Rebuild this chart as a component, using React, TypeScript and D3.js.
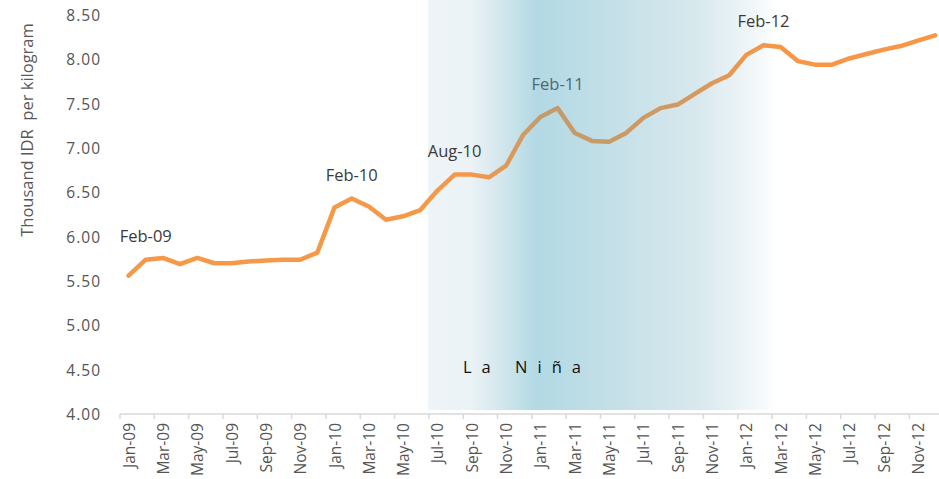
import React from "react";
import * as d3 from "d3";

const months: string[] = [
  "Jan-09", "Feb-09", "Mar-09", "Apr-09", "May-09", "Jun-09", "Jul-09", "Aug-09", "Sep-09", "Oct-09", "Nov-09", "Dec-09",
  "Jan-10", "Feb-10", "Mar-10", "Apr-10", "May-10", "Jun-10", "Jul-10", "Aug-10", "Sep-10", "Oct-10", "Nov-10", "Dec-10",
  "Jan-11", "Feb-11", "Mar-11", "Apr-11", "May-11", "Jun-11", "Jul-11", "Aug-11", "Sep-11", "Oct-11", "Nov-11", "Dec-11",
  "Jan-12", "Feb-12", "Mar-12", "Apr-12", "May-12", "Jun-12", "Jul-12", "Aug-12", "Sep-12", "Oct-12", "Nov-12", "Dec-12",
];

const prices: number[] = [
  5.56, 5.74, 5.76, 5.69, 5.76, 5.70, 5.70, 5.72, 5.73, 5.74, 5.74, 5.82,
  6.33, 6.43, 6.34, 6.19, 6.23, 6.30, 6.52, 6.70, 6.70, 6.67, 6.80, 7.15,
  7.35, 7.45, 7.17, 7.08, 7.07, 7.17, 7.34, 7.45, 7.49, 7.61, 7.73, 7.82,
  8.05, 8.16, 8.14, 7.98, 7.94, 7.94, 8.01, 8.06, 8.11, 8.15, 8.21, 8.27,
];

const yTicks: number[] = [4.0, 4.5, 5.0, 5.5, 6.0, 6.5, 7.0, 7.5, 8.0, 8.5];

const annotated: string[] = ["Feb-09", "Feb-10", "Aug-10", "Feb-11", "Feb-12"];

const laNinaStart = "Jul-10";
const laNinaEnd = "Mar-12";
const laNinaLabel = "La Niña";
const yTitle = "Thousand IDR  per kilogram";

const W = 939;
const H = 479;
const left = 120;
const bandW = 17.16;
const axisY = 414;
const topY = 15;

export default function App() {
  const x = d3
    .scaleBand<string>()
    .domain(months)
    .range([left, left + bandW * months.length])
    .padding(0);
  const y = d3.scaleLinear().domain([4, 8.5]).range([axisY, topY]);
  const cx = (m: string) => (x(m) as number) + x.bandwidth() / 2;

  const data = months.map((m, i) => ({ m, v: prices[i] }));
  const line = d3
    .line<{ m: string; v: number }>()
    .x((d) => cx(d.m))
    .y((d) => y(d.v));

  const shadeX0 = (x(laNinaStart) as number) - 1;
  const shadeX1 = (x(laNinaEnd) as number) + 6;

  const font = "'Open Sans', 'DejaVu Sans', sans-serif";

  return (
    <svg
      width={W}
      height={H}
      style={{ position: "absolute", left: 0, top: 0, background: "#fff" }}
    >
      <defs>
        <linearGradient id="shade" gradientUnits="userSpaceOnUse" x1={shadeX0} x2={shadeX1} y1={0} y2={0}>
          <stop offset="0" stopColor="#eef4f7" />
          <stop offset="0.12" stopColor="#ebf3f6" />
          <stop offset="0.2" stopColor="#d6e8ee" />
          <stop offset="0.31" stopColor="#b2d9e4" />
          <stop offset="0.55" stopColor="#c6e0e8" />
          <stop offset="0.78" stopColor="#d9e9ee" />
          <stop offset="0.93" stopColor="#f1f7f9" />
          <stop offset="1" stopColor="#ffffff" />
        </linearGradient>
        <linearGradient id="lineGrad" gradientUnits="userSpaceOnUse" x1={0} x2={W} y1={0} y2={0}>
          <stop offset={470 / W} stopColor="#f59848" />
          <stop offset={505 / W} stopColor="#e09a58" />
          <stop offset={540 / W} stopColor="#c59b6a" />
          <stop offset={620 / W} stopColor="#c99a66" />
          <stop offset={700 / W} stopColor="#d69960" />
          <stop offset={745 / W} stopColor="#ee974d" />
          <stop offset={775 / W} stopColor="#f79646" />
        </linearGradient>
      </defs>

      <rect x={shadeX0} y={0} width={shadeX1 - shadeX0} height={axisY - 4} fill="url(#shade)" />

      {/* y tick labels */}
      {yTicks.map((t) => (
        <text
          key={t}
          x={101}
          y={y(t)}
          textAnchor="end"
          dominantBaseline="central"
          fontFamily={font}
          fontSize={15.5}
          letterSpacing={1}
          fill="#555"
        >
          {t.toFixed(2)}
        </text>
      ))}

      {/* y title */}
      <text
        transform={`translate(26, 130) rotate(-90)`}
        textAnchor="middle"
        dominantBaseline="central"
        fontFamily={font}
        fontSize={16.5}
        fill="#595959"
        style={{ whiteSpace: "pre" }}
      >
        {yTitle}
      </text>

      {/* x axis */}
      <line x1={left} x2={W} y1={axisY} y2={axisY} stroke="#d9d9d9" strokeWidth={1.5} />
      {months.map((m, i) =>
        i % 2 === 0 ? (
          <line
            key={"t" + m}
            x1={x(m) as number}
            x2={x(m) as number}
            y1={axisY}
            y2={axisY + 5}
            stroke="#d9d9d9"
            strokeWidth={1.5}
          />
        ) : null
      )}
      {months.map((m, i) =>
        i % 2 === 0 ? (
          <text
            key={"l" + m}
            transform={`translate(${cx(m)}, ${axisY + 9}) rotate(-90)`}
            textAnchor="end"
            dominantBaseline="central"
            fontFamily={font}
            fontSize={15.5}
            fill="#555"
          >
            {m}
          </text>
        ) : null
      )}

      {/* line */}
      <path
        d={line(data) as string}
        fill="none"
        stroke="url(#lineGrad)"
        strokeWidth={4.5}
        strokeLinejoin="round"
        strokeLinecap="round"
      />

      {/* annotations */}
      {annotated.map((m) => {
        const v = prices[months.indexOf(m)];
        return (
          <text
            key={"a" + m}
            x={cx(m)}
            y={y(v) - 18}
            textAnchor="middle"
            fontFamily={font}
            fontSize={16.5}
            fill={m === "Feb-11" ? "#4e6876" : "#3a3a3a"}
          >
            {m}
          </text>
        );
      })}

      <text
        x={463}
        y={373}
        fontFamily={font}
        fontSize={16.5}
        letterSpacing={10}
        fill="#111"
      >
        {laNinaLabel}
      </text>
    </svg>
  );
}
